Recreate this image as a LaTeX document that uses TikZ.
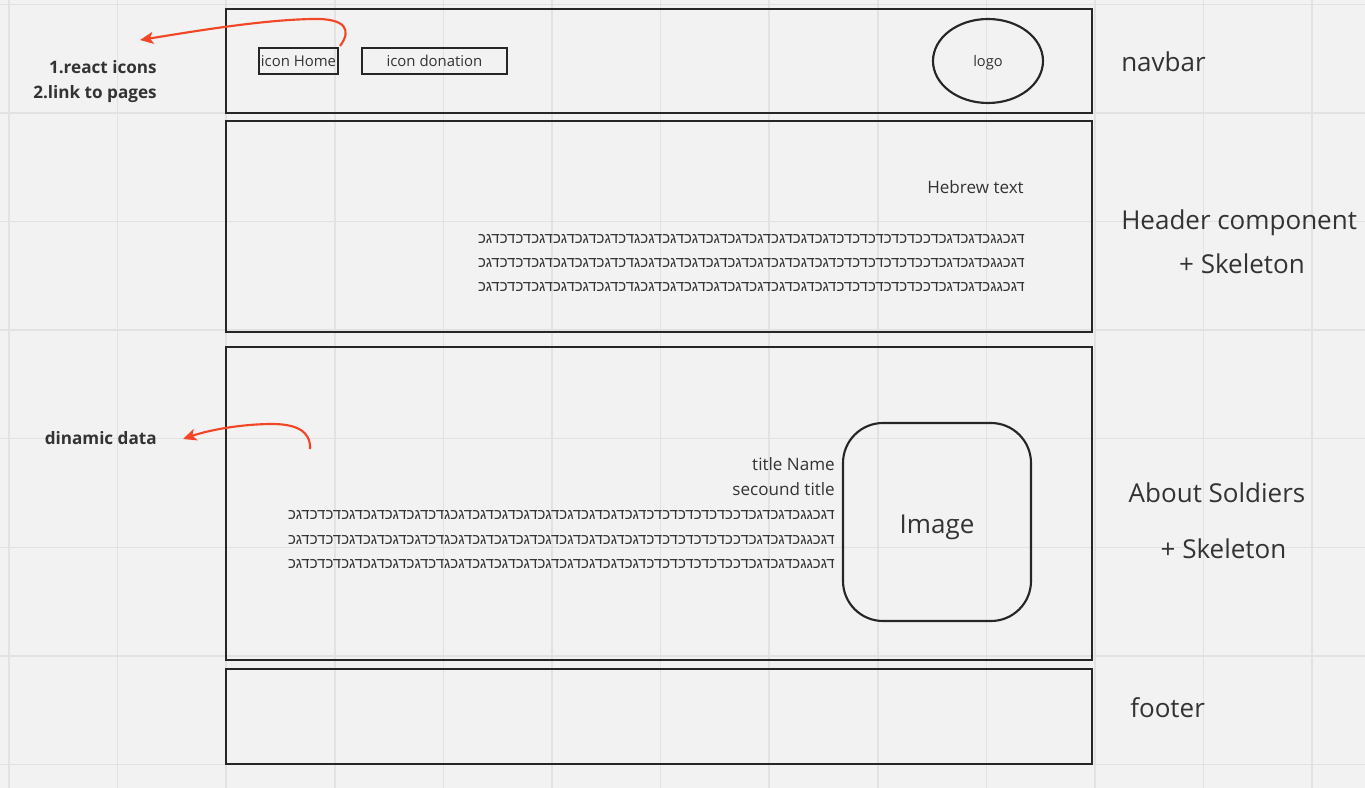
\documentclass[tikz,border=0pt]{standalone}
\usepackage{fontspec}
\setmainfont{Open Sans}
\newfontfamily\hebfont[Script=Hebrew]{Liberation Sans}
\TeXXeTstate=1
\usetikzlibrary{arrows.meta,fit,shapes.geometric}
\definecolor{bg}{HTML}{F2F2F2}
\definecolor{gridc}{HTML}{E2E2E2}
\definecolor{ink}{HTML}{262626}
\definecolor{txt}{HTML}{333333}
\definecolor{redc}{HTML}{F24726}
\newcommand{\hebline}{\hebfont\beginR דגכגגכדגכדגכדככדכדכדכדכדכדגכדגכדגכדגכדגכדגכדגכדגכדגכגדכדגכדגכדגכדגכדכדכדגכ\endR}
\tikzset{
  frame/.style={draw=ink, line width=1.9pt, inner sep=0pt},
  smallbox/.style={draw=ink, line width=1.6pt, inner sep=0pt, text=txt, font=\fontsize{11.2}{13}\selectfont},
  biglabel/.style={text=txt, inner sep=0pt, font=\fontsize{19.5}{23}\selectfont},
  sidenote/.style={text=txt, inner sep=0pt, font=\bfseries\fontsize{12.85}{15}\selectfont},
  plain/.style={text=txt, inner sep=0pt, font=\fontsize{12.8}{15}\selectfont},
  heb/.style={text=txt, inner sep=0pt, font=\fontsize{11.25}{13}\selectfont},
  redarrow/.style={draw=redc, line width=1.6pt, -{Stealth[length=10pt,width=9pt,inset=2.5pt]}},
}
\begin{document}
\begin{tikzpicture}[x=0.75pt,y=-0.75pt]
\fill[bg] (0,0) rectangle (1365,788);
\useasboundingbox (0,0) rectangle (1365,788);
% grid
\foreach \i in {0,...,12} {\draw[gridc, line width=1.1pt] ({9+108.6*\i},0) -- ({9+108.6*\i},788);}
\foreach \j in {0,...,7} {\draw[gridc, line width=1.1pt] (0,{4.3+108.6*\j}) -- (1365,{4.3+108.6*\j});}
% section frames
\node[frame, fit={(226,9) (1092,113)}] (navbar) {};
\node[frame, fit={(226,121) (1092,332)}] (header) {};
\node[frame, fit={(226,347) (1092,660)}] (about) {};
\node[frame, fit={(226,669) (1092,764)}] (footer) {};
% navbar content
\node[smallbox, minimum width=79*0.75pt, minimum height=26*0.75pt] (home) at (298.5,61) {};
\node[text=txt, inner sep=0pt, font=\fontsize{11.2}{13}\selectfont, anchor=base] (hometxt) at (298.5,67) {icon Home};
\node[smallbox, minimum width=145*0.75pt, minimum height=26*0.75pt] (don) at (434.5,61) {};
\node[text=txt, inner sep=0pt, font=\fontsize{11.2}{13}\selectfont, anchor=base] (dontxt) at (434.5,67) {icon donation};
\node[draw=ink, line width=1.6pt, ellipse, minimum width=110*0.75pt, minimum height=84*0.75pt, inner sep=0pt] (logo) at (988,61) {};
\node[text=txt, inner sep=0pt, font=\fontsize{11}{13}\selectfont, anchor=base] (logotxt) at (988,67) {logo};
% header content
\node[plain, anchor=base east] (hebtitle) at (1024,193.5) {Hebrew text};
\node[heb, anchor=base east] (h1) at (1025,243.5) {\hebline};
\node[heb, anchor=base east] (h2) at (1025,267.5) {\hebline};
\node[heb, anchor=base east] (h3) at (1025,291.5) {\hebline};
% about content
\node[plain, anchor=base east] (tname) at (835,470.5) {title Name};
\node[plain, anchor=base east] (tsec) at (835,495.5) {secound title};
\node[heb, anchor=base east] (a1) at (835,519.5) {\hebline};
\node[heb, anchor=base east] (a2) at (835,544.5) {\hebline};
\node[heb, anchor=base east] (a3) at (835,568.5) {\hebline};
\node[draw=ink, line width=1.6pt, rounded corners=30pt, minimum width=188*0.75pt, minimum height=198*0.75pt, inner sep=0pt] (img) at (937,522) {};
\node[biglabel, anchor=base] (imgtxt) at (937,533) {Image};
% right labels
\node[biglabel, anchor=base west] (lnav) at (1121,72) {navbar};
\node[biglabel, anchor=base west] (lhead) at (1121,230) {Header component};
\node[biglabel, anchor=base] (lhead2) at (1242,273) {+ Skeleton};
\node[biglabel, anchor=base] (labout) at (1217,502.5) {About Soldiers};
\node[biglabel, anchor=base] (labout2) at (1223.5,558) {+ Skeleton};
\node[biglabel, anchor=base west] (lfoot) at (1130,717) {footer};
% left notes
\node[sidenote, anchor=base east] (n1) at (157,74) {1.react icons};
\node[sidenote, anchor=base east] (n2) at (157,99) {2.link to pages};
\node[sidenote, anchor=base east] (n3) at (157,444.5) {dinamic data};
% red arrows
\coordinate (s1) at (340,46);
\coordinate (e1) at (140,40);
\coordinate (s2) at (310,449);
\coordinate (e2) at (183,439);
\draw[redarrow] (s1) .. controls (352,30) and (346,18) .. (312,19) .. controls (260,20) and (190,32) .. (e1);
\draw[redarrow] (s2) .. controls (311,431) and (296,424) .. (272,424) .. controls (245,424) and (212,429) .. (e2);
\end{tikzpicture}
\end{document}
